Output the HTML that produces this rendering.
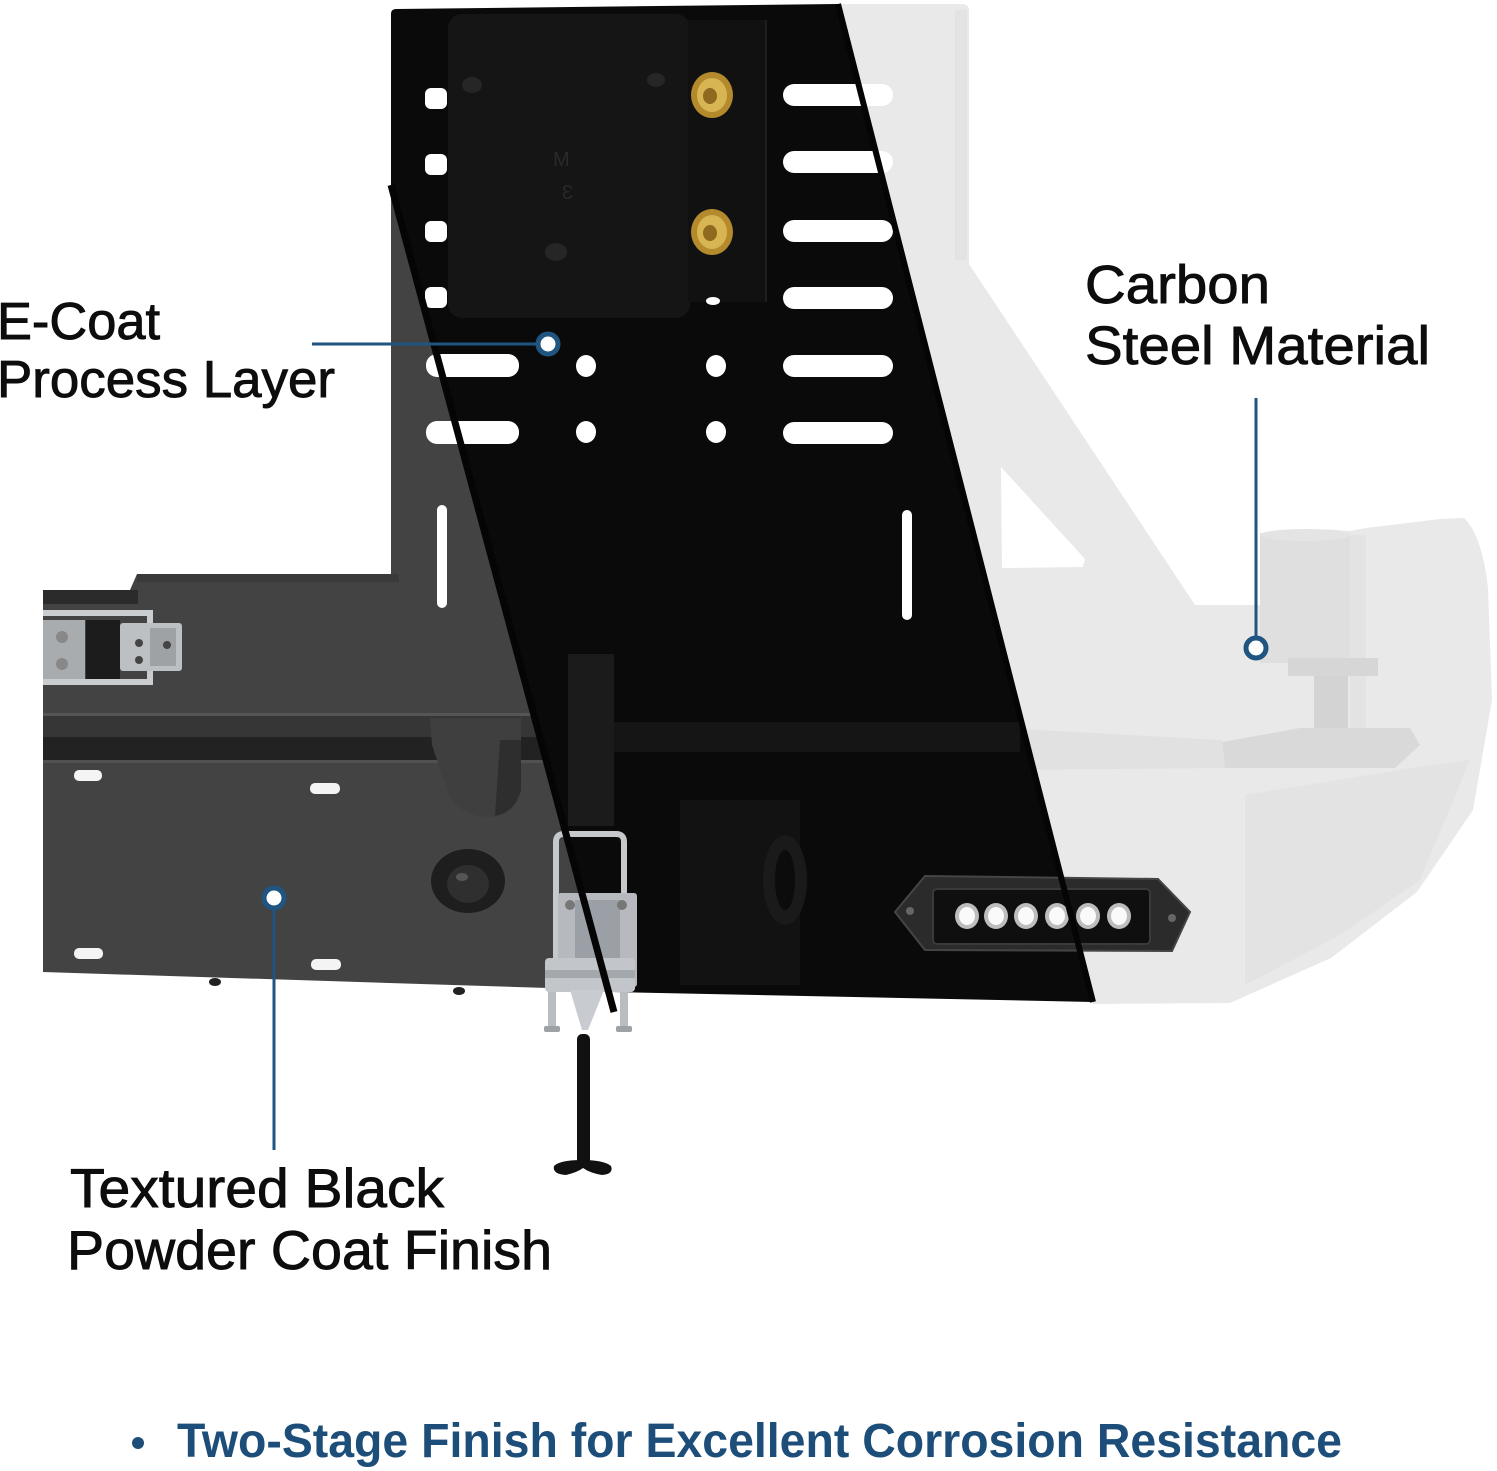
<!DOCTYPE html>
<html>
<head>
<meta charset="utf-8">
<style>
html,body{margin:0;padding:0;background:#fff;}
svg{display:block;}
text{font-family:"Liberation Sans", sans-serif;}
</style>
</head>
<body>
<svg width="1497" height="1471" viewBox="0 0 1497 1471" xmlns="http://www.w3.org/2000/svg">
<rect width="1497" height="1471" fill="#ffffff"/>

<!-- ===== Light grey (carbon steel) part ===== -->
<path d="M838,4 L962,4 Q969,4 969,11 L969,264 L1195,605 L1260,605 L1260,536 Q1300,526 1350,531 L1366,528 L1440,519 L1464,518 Q1482,535 1488,588 L1492,700 L1473,810 L1417,892 L1331,958 L1230,1003 L1093,1004 Z" fill="#e9e9e9"/>
<!-- triangle cutout -->
<path d="M1001,467 L1085,559 L1083,567 L1002,568 Z" fill="#ffffff"/>
<!-- subtle structure in light part -->
<rect x="1260" y="533" width="90" height="130" fill="#dfdfdf"/>
<rect x="1350" y="535" width="16" height="200" fill="#e3e3e3"/>
<ellipse cx="1305" cy="535" rx="45" ry="6" fill="#e4e4e4"/>
<rect x="1288" y="658" width="90" height="18" fill="#d6d6d6"/>
<rect x="1314" y="676" width="34" height="58" fill="#d3d3d3"/>
<path d="M1222,742 L1300,728 L1410,728 L1420,745 L1395,768 L1225,768 Z" fill="#d9d9d9"/>
<path d="M1000,728 L1222,740 L1225,768 L1008,770 Z" fill="#e1e1e1"/>
<path d="M1245,795 L1410,768 L1470,760 L1420,880 L1340,935 L1245,985 Z" fill="#e3e3e3"/>
<rect x="955" y="10" width="12" height="250" fill="#e3e3e3"/>

<!-- ===== Dark grey textured (powder coat) part ===== -->
<g fill="#434343">
  <rect x="391" y="150" width="300" height="440"/>
  <path d="M43,590 L130,590 L137,574 L700,574 L700,714 L43,714 Z"/>
  <path d="M43,760 L700,760 L700,992 L612,990 L43,972 Z"/>
</g>
<rect x="137" y="574" width="262" height="8" fill="#3a3a3a"/>
<rect x="43" y="590" width="95" height="14" fill="#2b2b2b"/>
<rect x="43" y="713" width="657" height="3" fill="#555"/>
<rect x="43" y="716" width="657" height="21" fill="#363636"/>
<rect x="43" y="737" width="657" height="23" fill="#222222"/>
<rect x="43" y="760" width="657" height="3" fill="#515151"/>
<!-- tab -->
<path d="M430,718 L521,718 L521,782 Q521,817 486,817 Q455,814 447,790 L432,745 Z" fill="#3f3f3f"/>
<path d="M500,740 L521,740 L521,790 Q515,812 495,816 Z" fill="#2e2e2e"/>
<!-- button -->
<ellipse cx="468" cy="881" rx="37" ry="32" fill="#1e1e1e"/>
<ellipse cx="468" cy="884" rx="21" ry="19" fill="#2f2f2f"/>
<ellipse cx="462" cy="877" rx="6" ry="4" fill="#555"/>
<!-- slots on front panel -->
<g fill="#f4f4f4">
  <rect x="74" y="770" width="28" height="11" rx="5"/>
  <rect x="310" y="783" width="30" height="11" rx="5"/>
  <rect x="74" y="948" width="29" height="11" rx="5"/>
  <rect x="311" y="959" width="30" height="11" rx="5"/>
</g>
<!-- feet -->
<ellipse cx="215" cy="982" rx="6" ry="4" fill="#222"/>
<ellipse cx="459" cy="991" rx="6" ry="4" fill="#222"/>

<!-- left latch -->
<rect x="43" y="620" width="42" height="60" fill="#a9acae"/>
<rect x="86" y="620" width="34" height="60" fill="#1c1c1c"/>
<path d="M43,613 L150,613 L150,682 L43,682" fill="none" stroke="#cacdcf" stroke-width="6"/>
<rect x="120" y="623" width="62" height="48" rx="3" fill="#bcc0c2"/>
<rect x="150" y="628" width="26" height="38" fill="#9ea2a4"/>
<circle cx="139" cy="643" r="4" fill="#444"/>
<circle cx="139" cy="660" r="4" fill="#444"/>
<circle cx="167" cy="645" r="4" fill="#444"/>
<circle cx="62" cy="637" r="6" fill="#888"/>
<circle cx="62" cy="664" r="6" fill="#888"/>

<!-- ===== Black E-coat band ===== -->
<path d="M396,9 L838,4 L1093,1002 L612,992 L391,185 L391,14 Q391,9 396,9 Z" fill="#0a0a0a"/>
<!-- mounting plate and bracket -->
<rect x="448" y="14" width="242" height="304" rx="14" fill="#151515"/>
<rect x="688" y="20" width="78" height="282" fill="#111111"/>
<line x1="766" y1="20" x2="766" y2="302" stroke="#1e1e1e" stroke-width="2"/>
<!-- studs -->
<ellipse cx="472" cy="85" rx="10" ry="8" fill="#262626"/>
<ellipse cx="656" cy="80" rx="9" ry="7" fill="#262626"/>
<ellipse cx="556" cy="252" rx="11" ry="9" fill="#262626"/>
<text x="553" y="166" font-size="20" fill="#2a2a2a">M</text>
<text transform="translate(573,199) scale(-1,1)" font-size="20" fill="#2a2a2a">3</text>
<!-- gold bolts -->
<g>
  <ellipse cx="712" cy="95" rx="21" ry="23" fill="#b48a2c"/>
  <ellipse cx="712" cy="95" rx="15" ry="17" fill="#d8b553"/>
  <ellipse cx="710" cy="96" rx="7" ry="8" fill="#8d6a1e"/>
  <ellipse cx="712" cy="232" rx="21" ry="23" fill="#b48a2c"/>
  <ellipse cx="712" cy="232" rx="15" ry="17" fill="#d8b553"/>
  <ellipse cx="710" cy="233" rx="7" ry="8" fill="#8d6a1e"/>
</g>

<!-- lower black region subtle features -->
<rect x="600" y="722" width="420" height="30" fill="#151515"/>
<rect x="568" y="654" width="46" height="172" fill="#1b1b1b"/>
<rect x="680" y="800" width="120" height="185" fill="#121212"/>
<ellipse cx="785" cy="880" rx="22" ry="45" fill="#1a1a1a"/>
<ellipse cx="785" cy="880" rx="10" ry="30" fill="#0c0c0c"/>

<!-- white cutouts -->
<g fill="#ffffff">
  <rect x="425" y="88" width="22" height="21" rx="6"/>
  <rect x="425" y="154" width="22" height="21" rx="6"/>
  <rect x="425" y="221" width="22" height="21" rx="6"/>
  <rect x="425" y="287" width="22" height="21" rx="6"/>
  <rect x="426" y="354" width="93" height="23" rx="11"/>
  <rect x="426" y="421" width="93" height="23" rx="11"/>
  <rect x="783" y="84" width="110" height="22" rx="11"/>
  <rect x="783" y="151" width="110" height="22" rx="11"/>
  <rect x="783" y="220" width="110" height="22" rx="11"/>
  <rect x="783" y="287" width="110" height="22" rx="11"/>
  <rect x="783" y="355" width="110" height="22" rx="11"/>
  <rect x="783" y="422" width="110" height="22" rx="11"/>
  <ellipse cx="586" cy="366" rx="10" ry="11"/>
  <ellipse cx="716" cy="366" rx="10" ry="11"/>
  <ellipse cx="586" cy="432" rx="10" ry="11"/>
  <ellipse cx="716" cy="432" rx="10" ry="11"/>
  <ellipse cx="713" cy="301" rx="7" ry="4"/>
  <rect x="437" y="505" width="10" height="103" rx="5"/>
  <rect x="902" y="510" width="10" height="110" rx="5"/>
</g>

<!-- bottom latch (silver) -->
<path d="M556,962 L556,842 Q556,834 564,834 L616,834 Q624,834 624,842 L624,962" fill="none" stroke="#c6c9cc" stroke-width="6"/>
<rect x="558" y="893" width="79" height="94" rx="3" fill="#b6babe"/>
<rect x="575" y="900" width="45" height="80" fill="#9aa0a5"/>
<circle cx="570" cy="905" r="5" fill="#777"/>
<circle cx="622" cy="905" r="5" fill="#777"/>
<rect x="545" y="958" width="90" height="34" rx="4" fill="#c2c6ca"/>
<rect x="545" y="970" width="90" height="8" fill="#a3a8ac"/>
<rect x="548" y="992" width="8" height="38" fill="#b9bdc0"/>
<rect x="620" y="992" width="8" height="38" fill="#b9bdc0"/>
<rect x="544" y="1026" width="16" height="6" rx="2" fill="#9da1a4"/>
<rect x="616" y="1026" width="16" height="6" rx="2" fill="#9da1a4"/>
<path d="M570,990 L582,1030 L588,1030 L604,990 Z" fill="#c8ccd0"/>
<rect x="577" y="1034" width="13" height="132" rx="5" fill="#111"/>
<path d="M582,1160 Q560,1160 554,1166 Q552,1174 566,1175 Q578,1172 583,1168 Q590,1173 602,1175 Q614,1174 611,1166 Q604,1160 582,1160 Z" fill="#111"/>

<!-- LED light -->
<path d="M895,912 L925,876 L1158,879 L1190,912 L1172,951 L925,950 Z" fill="#2b2b2b" stroke="#454545" stroke-width="2"/>
<rect x="933" y="889" width="217" height="55" rx="4" fill="#0f0f0f" stroke="#3a3a3a" stroke-width="2"/>
<g>
  <ellipse cx="967" cy="916" rx="12" ry="13" fill="#bdbdbd"/>
  <ellipse cx="967" cy="916" rx="8" ry="9" fill="#fafafa"/>
  <ellipse cx="996" cy="916" rx="12" ry="13" fill="#bdbdbd"/>
  <ellipse cx="996" cy="916" rx="8" ry="9" fill="#fafafa"/>
  <ellipse cx="1026" cy="916" rx="12" ry="13" fill="#bdbdbd"/>
  <ellipse cx="1026" cy="916" rx="8" ry="9" fill="#fafafa"/>
  <ellipse cx="1057" cy="916" rx="12" ry="13" fill="#bdbdbd"/>
  <ellipse cx="1057" cy="916" rx="8" ry="9" fill="#fafafa"/>
  <ellipse cx="1088" cy="916" rx="12" ry="13" fill="#bdbdbd"/>
  <ellipse cx="1088" cy="916" rx="8" ry="9" fill="#fafafa"/>
  <ellipse cx="1119" cy="916" rx="12" ry="13" fill="#bdbdbd"/>
  <ellipse cx="1119" cy="916" rx="8" ry="9" fill="#fafafa"/>
</g>
<circle cx="910" cy="911" r="4" fill="#666"/>
<circle cx="1172" cy="918" r="4" fill="#666"/>

<!-- boundary lines -->
<line x1="391" y1="185" x2="614" y2="1012" stroke="#050505" stroke-width="7"/>
<line x1="838" y1="4" x2="1093" y2="1002" stroke="#050505" stroke-width="6"/>

<!-- ===== Callout connectors ===== -->
<g stroke="#1f5580" fill="#ffffff">
  <line x1="312" y1="344" x2="537" y2="344" stroke-width="3"/>
  <circle cx="548" cy="344" r="10" stroke-width="5"/>
  <line x1="1256" y1="398" x2="1256" y2="637" stroke-width="3"/>
  <circle cx="1256" cy="648" r="10" stroke-width="5"/>
  <line x1="274" y1="909" x2="274" y2="1150" stroke-width="3"/>
  <circle cx="274" cy="898" r="10" stroke-width="5"/>
</g>

<!-- ===== Labels ===== -->
<g fill="#0d0d0d" stroke="#0d0d0d" stroke-width="0.9">
  <text x="-3" y="339" font-size="52" textLength="163" lengthAdjust="spacingAndGlyphs">E-Coat</text>
  <text x="-3" y="397" font-size="52" textLength="338" lengthAdjust="spacingAndGlyphs">Process Layer</text>
  <text x="1085" y="303" font-size="54" textLength="185" lengthAdjust="spacingAndGlyphs">Carbon</text>
  <text x="1085" y="364" font-size="54" textLength="345" lengthAdjust="spacingAndGlyphs">Steel Material</text>
  <text x="70" y="1207" font-size="55" textLength="374" lengthAdjust="spacingAndGlyphs">Textured Black</text>
  <text x="67" y="1269" font-size="55" textLength="485" lengthAdjust="spacingAndGlyphs">Powder Coat Finish</text>
</g>
<circle cx="138" cy="1443" r="6" fill="#1d4e7a"/>
<text x="177" y="1457" font-size="48" font-weight="bold" fill="#1d4e7a" textLength="1165" lengthAdjust="spacingAndGlyphs">Two-Stage Finish for Excellent Corrosion Resistance</text>
</svg>
</body>
</html>
